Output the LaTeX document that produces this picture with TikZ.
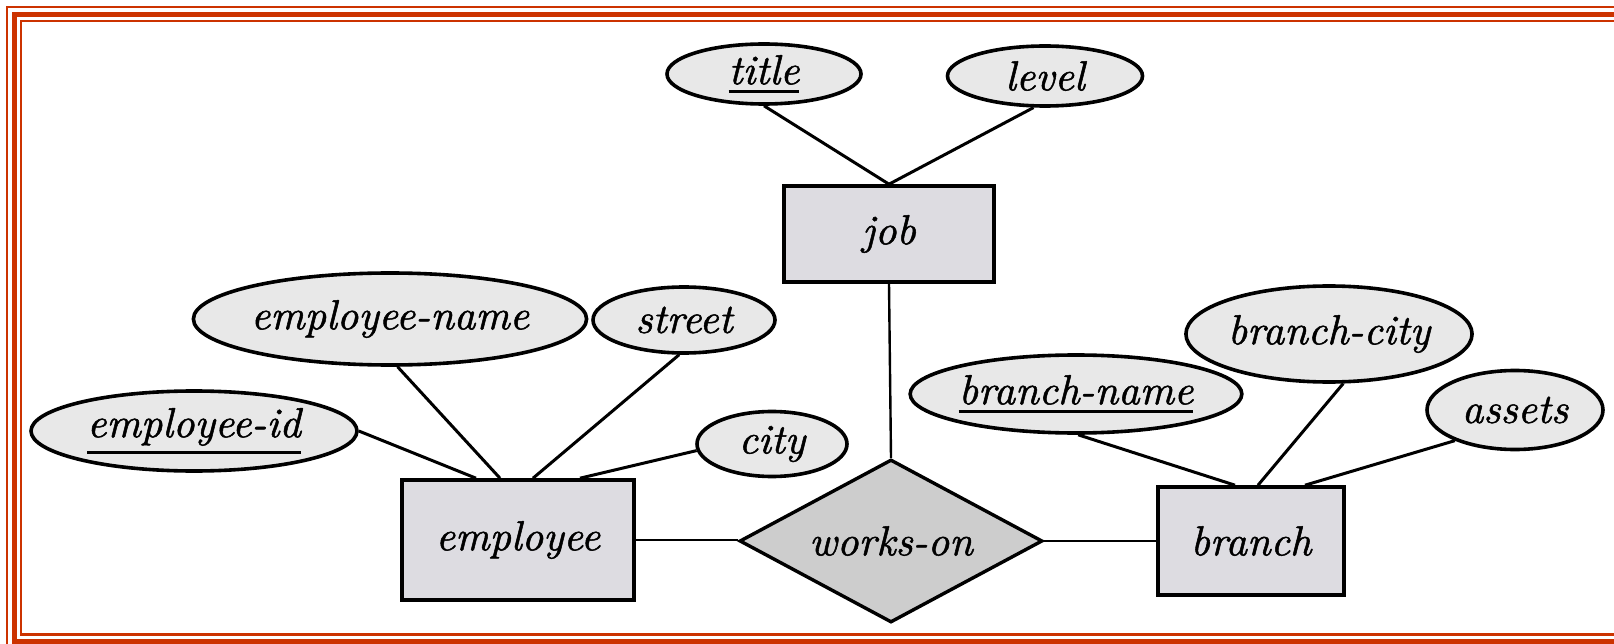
\documentclass[tikz,border=0pt]{standalone}
\usepackage{fontspec}
\usetikzlibrary{shapes.geometric}
\definecolor{framered}{RGB}{204,51,0}
\definecolor{attrfill}{RGB}{232,232,232}
\definecolor{entfill}{RGB}{221,220,225}
\definecolor{relfill}{RGB}{205,205,205}
\newfontfamily\erfam[Extension=.otf,FakeBold=1.2]{lmroman10-italic}
\newcommand\erfont{\erfam\fontsize{42}{48}\selectfont}
\newcommand\keyattr[1]{\setbox0=\hbox{#1}\dimen0=\dp0 \advance\dimen0 by 5pt \dimen2=\dimen0 \advance\dimen2 by 3.2pt \rlap{\vrule height -\dimen0 depth \dimen2 width \wd0}\box0}
\begin{document}
\begin{tikzpicture}[x=1pt,y=-1pt,
  attr/.style={ellipse,draw,line width=3.6pt,fill=attrfill,inner sep=0pt,font=\erfont},
  entity/.style={rectangle,draw,line width=3.6pt,fill=entfill,inner sep=0pt,font=\erfont},
  rel/.style={diamond,draw,line width=3.4pt,fill=relfill,inner sep=0pt,font=\erfont},
  attrline/.style={line width=3pt},
  relline/.style={line width=2.4pt},
  frameline/.style={draw=framered}]
\useasboundingbox (0,0) rectangle (1614,644);
\begin{scope}
\clip (0,0) rectangle (1614,644);
\draw[frameline,line width=1.6pt] (6.8,6.8) rectangle (1700,700);
\draw[frameline,line width=5.5pt] (14.5,14.5) rectangle (1700,641.5);
\draw[frameline,line width=2.2pt] (21,21) rectangle (1700,634.5);
\end{scope}

% entities and relationship
\node[entity,minimum width=210pt,minimum height=96pt] (job) at (889,234) {job};
\node[entity,minimum width=232pt,minimum height=120pt] (emp) at (518,540) {employee};
\node[entity,minimum width=186pt,minimum height=108pt] (branch) at (1251,541) {branch};
\node[rel,shape aspect=1.85,minimum width=303pt,minimum height=163pt] (works) at (891,541) {works-on};

% attributes
\node[attr,minimum width=194pt,minimum height=60pt] (title) at (764,74) {\keyattr{title}};
\node[attr,minimum width=195pt,minimum height=60pt] (level) at (1045,76) {level};
\node[attr,minimum width=328pt,minimum height=92pt] (ename) at (390,319) {employee-name};
\node[attr,minimum width=182pt,minimum height=66pt] (street) at (684,320) {street};
\node[attr,minimum width=326pt,minimum height=80pt] (eid) at (194,431) {\keyattr{employee-id}};
\node[attr,minimum width=150pt,minimum height=65pt] (city) at (772,444) {city};
\node[attr,minimum width=310pt,minimum height=78pt] (bname) at (1076,394) {\keyattr{branch-name}};
\node[attr,minimum width=266pt,minimum height=96pt] (bcity) at (1329,334) {branch-city};
\node[attr,minimum width=176pt,minimum height=79pt] (assets) at (1515,410) {assets};

% attribute connectors
\draw[attrline] (title.south) -- (job.north);
\draw[attrline] (level.-110) -- (job.north);
\draw[attrline] (eid.east) -- ([xshift=-42pt]emp.north);
\draw[attrline] (ename.-81) -- ([xshift=-18pt]emp.north);
\draw[attrline] (street.-98) -- ([xshift=15pt]emp.north);
\draw[attrline] (city.185) -- ([xshift=62pt]emp.north);
\draw[attrline] (bname.-87) -- ([xshift=-16pt]branch.north);
\draw[attrline] (bcity.-74) -- ([xshift=7pt]branch.north);
\draw[attrline] (assets.207) -- ([xshift=54pt]branch.north);

% relationship connectors
\draw[relline] (job.south) -- (works.north);
\draw[relline] (emp.east) -- (emp.east -| works.west);
\draw[relline] (works.east) -- (branch.west);
\end{tikzpicture}
\end{document}
